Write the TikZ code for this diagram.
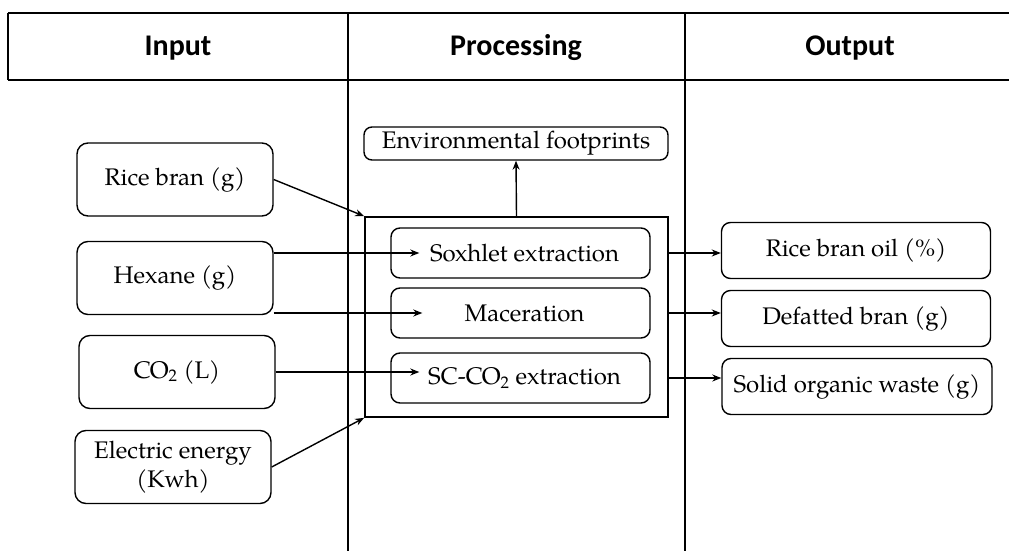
\documentclass[tikz,border=0pt]{standalone}
\usepackage{fontspec}
\setmainfont{TeX Gyre Pagella}
\newfontfamily\hdrfont{Carlito}
\usepackage{tikz}
\usetikzlibrary{arrows.meta, positioning, calc}
\tikzset{
  inbox/.style={rectangle, draw, rounded corners=11pt, line width=1.4pt,
    minimum width=196pt, minimum height=73pt, inner sep=0pt,
    align=center, font=\fontsize{24}{29}\selectfont},
  procbox/.style={rectangle, draw, rounded corners=9pt, line width=1.4pt,
    minimum width=259pt, minimum height=50pt, inner sep=0pt,
    font=\fontsize{24}{29}\selectfont},
  outbox/.style={rectangle, draw, rounded corners=9pt, line width=1.4pt,
    minimum width=269pt, minimum height=56pt, inner sep=0pt,
    font=\fontsize{24}{29}\selectfont},
  hdr/.style={font=\hdrfont\bfseries\fontsize{30}{36}\selectfont},
  arrow/.style={-{Stealth[length=9pt, width=7pt]}, line width=1.4pt},
  grid/.style={line width=1.2pt}
}

\begin{document}
\begin{tikzpicture}[x=1pt, y=-1pt]
  \useasboundingbox (0,0) rectangle (1009,551);

  % Table frame
  \draw[grid] (8,13) -- (1009,13);
  \draw[grid] (8,80) -- (1009,80);
  \draw[grid] (8,13) -- (8,80);
  \draw[grid] (348,13) -- (348,551);
  \draw[grid] (685,13) -- (685,551);

  % Column headers
  \node[hdr] (hIn) at (178,48) {Input};
  \node[hdr] (hProc) at (516,48) {Processing};
  \node[hdr] (hOut) at (850,48) {Output};

  % Inputs
  \node[inbox] (riceBran) at (175,179.5) {Rice bran (g)};
  \node[inbox] (hexane) at (175,278) {Hexane (g)};
  \node[inbox] (co2In) at (177,372) {CO\textsubscript{2} (L)};
  \node[inbox] (elecIn) at (173,467) {Electric energy\\(Kwh)};

  % Processing
  \node[rectangle, draw, line width=1.7pt, minimum width=303pt, minimum height=200pt] (procBox) at (516.5,317) {};
  \node[procbox] (soxhlet) at (520.5,253) {\hspace*{8pt}Soxhlet extraction};
  \node[procbox] (macer) at (520.5,313) {\hspace*{8pt}Maceration};
  \node[procbox] (scco2) at (520.5,378) {\hspace*{8pt}SC-CO\textsubscript{2} extraction};
  \node[rectangle, draw, rounded corners=8pt, line width=1.4pt, minimum width=304pt, minimum height=33pt, inner sep=0pt, font=\fontsize{24}{29}\selectfont] (envFp) at (516,143.5) {Environmental footprints};

  % Outputs
  \node[outbox] (oilOut) at (856,250.5) {Rice bran oil (\%)};
  \node[outbox] (branOut) at (856,318.5) {Defatted bran (g)};
  \node[outbox, minimum width=270pt] (wasteOut) at (857,386.5) {Solid organic waste (g)};

  % Input arrows
  \draw[arrow] (riceBran.east) -- (procBox.north west);
  \draw[arrow] (hexane.east |- soxhlet) -- ([xshift=29pt]soxhlet.west);
  \draw[arrow] (hexane.east |- macer) -- ([xshift=32pt]macer.west);
  \draw[arrow] (co2In.east) -- ([xshift=29pt]scco2.west |- co2In.east);
  \draw[arrow] (elecIn.east) -- (procBox.south west);

  % Footprint and output arrows
  \draw[arrow] (procBox.north) -- (envFp.south);
  \draw[arrow] (procBox.east |- soxhlet) -- (oilOut.west |- soxhlet);
  \draw[arrow] (procBox.east |- macer) -- (branOut.west |- macer);
  \draw[arrow] (procBox.east |- scco2) -- (wasteOut.west |- scco2);
\end{tikzpicture}
\end{document}
